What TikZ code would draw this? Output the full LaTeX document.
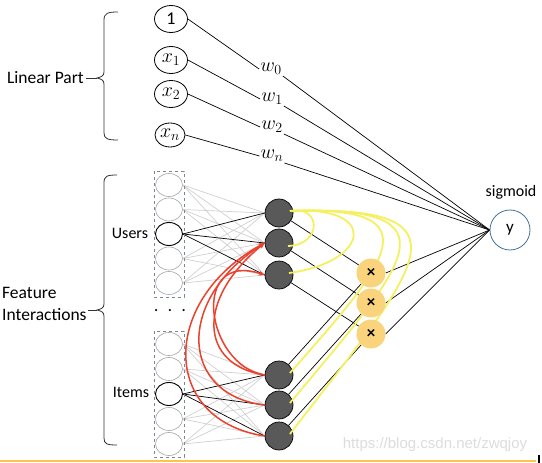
\documentclass[tikz,border=0pt]{standalone}
\usepackage{fix-cm}
\usepackage{fontspec}
\setmainfont{Carlito}
\newfontfamily\wmfont{Liberation Sans}
\usetikzlibrary{arrows.meta,calc,shapes.geometric}
\definecolor{darknode}{RGB}{89,89,89}
\definecolor{prodc}{RGB}{249,212,125}
\definecolor{yelc}{RGB}{244,240,95}
\definecolor{redc}{RGB}{235,65,45}
\definecolor{grayl}{RGB}{208,208,208}
\definecolor{graye}{RGB}{165,165,165}
\definecolor{boxc}{RGB}{120,135,150}
\definecolor{ycirc}{RGB}{65,113,156}
\definecolor{goldline}{RGB}{250,200,70}
\definecolor{wmark}{RGB}{220,220,220}
\pgfdeclarelayer{back}
\pgfdeclarelayer{over}
\pgfdeclarelayer{front}
\pgfsetlayers{back,main,over,front}
\begin{document}
\begin{tikzpicture}[x=1pt,y=-1pt,
  lin/.style={draw, ellipse, minimum width=33pt, minimum height=27pt, inner sep=0pt, line width=0.8pt, font=\fontsize{20}{22}\selectfont},
  emb/.style={draw=graye, ellipse, minimum width=27pt, minimum height=23pt, inner sep=0pt, line width=0.6pt},
  embk/.style={emb, draw=black, line width=0.9pt},
  dark/.style={circle, draw=black, fill=darknode, minimum size=28pt, inner sep=0pt, line width=0.7pt},
  prodn/.style={circle, fill=prodc, minimum size=29pt, inner sep=0pt, font=\bfseries\fontsize{17}{17}\selectfont},
  wl/.style={inner sep=1pt, font=\fontsize{20}{22}\selectfont},
  lbl/.style={font=\fontsize{17.5}{22}\selectfont},
  slbl/.style={font=\fontsize{16}{19}\selectfont},
  gl/.style={draw=grayl, line width=0.7pt},
  bl/.style={draw=black, line width=0.7pt},
  yl/.style={draw=yelc, line width=1.8pt},
  rl/.style={draw=redc, line width=1.5pt, -{Stealth[length=6pt,width=5pt]}},
  brace/.style={draw=black!80, line width=0.8pt}
]
\useasboundingbox (0,0) rectangle (542,463);

% linear part nodes
\node[lin, font=\fontsize{18}{20}\selectfont] (c1) at (171,19) {1};
\node[lin] (cx1) at (171,60) {$x_1$};
\node[lin] (cx2) at (171,94) {$x_2$};
\node[lin, minimum width=30pt, minimum height=24pt] (cxn) at (170,135) {$x_n$};
\node[wl] (w0) at (271,69) {$w_0$};
\node[wl] (w1) at (272,99) {$w_1$};
\node[wl] (w2) at (272,127) {$w_2$};
\node[wl] (wn) at (272,156) {$w_n$};

% output
\node[circle, draw=ycirc, line width=0.8pt, minimum size=40pt, inner sep=0pt, font=\fontsize{17}{19}\selectfont] (y) at (510,230) {y};
\node[slbl] (sig) at (511,192) {sigmoid};

% labels and braces
\node[lbl, anchor=east, inner sep=0pt] (lp) at (84,78) {Linear Part};
\node[lbl, anchor=west, align=left, inner sep=0pt] (fi) at (2,304) {Feature\\Interactions};
\node[slbl] (ulab) at (130,233) {Users};
\node[slbl] (ilab) at (131,392) {Items};
\node[font=\bfseries\fontsize{14}{14}\selectfont] (dots) at (170,311) {.\hspace{10pt}.\hspace{10pt}.};

\draw[brace] (118,12) .. controls (108,12) and (104,13) .. (104,20) -- (104,72)
  .. controls (104,76) and (101,77) .. (97,78) .. controls (101,79) and (104,80) .. (104,84)
  -- (104,133) .. controls (104,139) and (108,140) .. (118,140);
\draw[brace] (lp.east) ++(2,0) -- (97,78);
\draw[brace] (117,175) .. controls (107,175) and (104,176) .. (104,183) -- (104,304)
  .. controls (104,308) and (101,309) .. (97,310) .. controls (101,311) and (104,312) .. (104,316)
  -- (104,438) .. controls (104,444) and (107,445) .. (117,445);
\draw[brace] (88,310) -- (97,310);

% embedding boxes
\draw[boxc, dashed, line width=0.7pt] (154,171) rectangle (184,297);
\draw[boxc, dashed, line width=0.7pt] (154,331) rectangle (184,457);
\node[emb] (ue1) at (169,185) {};
\node[emb] (ue2) at (169,209.5) {};
\node[embk] (ue3) at (169,234) {};
\node[emb] (ue4) at (169,258.5) {};
\node[emb] (ue5) at (169,283) {};
\node[emb] (ie1) at (169,344) {};
\node[emb] (ie2) at (169,369) {};
\node[embk] (ie3) at (169,394) {};
\node[emb] (ie4) at (169,419) {};
\node[emb] (ie5) at (169,444) {};

% dark nodes
\node[dark] (u1) at (279,213) {};
\node[dark] (u2) at (279,243) {};
\node[dark] (u3) at (279,275) {};
\node[dark] (i1) at (279,375) {};
\node[dark] (i2) at (279,405) {};
\node[dark] (i3) at (279,436) {};

% product nodes
\begin{pgfonlayer}{front}
\node[prodn] (p1) at (371,273) {×};
\node[prodn] (p2) at (371,303) {×};
\node[prodn] (p3) at (371,334) {×};
\end{pgfonlayer}

\begin{pgfonlayer}{back}
\foreach \e in {ue1,ue2,ue4,ue5} \foreach \d in {u1,u2,u3} \draw[gl] (\e.east) -- (\d.west);
\foreach \e in {ie1,ie2,ie4,ie5} \foreach \d in {i1,i2,i3} \draw[gl] (\e.east) -- (\d.west);
\foreach \d in {u1,u2,u3} \draw[bl] (ue3.east) -- (\d.west);
\foreach \d in {i1,i2,i3} \draw[bl] (ie3.east) -- (\d.west);
\draw[bl] (c1.east) -- (w0.west);
\draw[bl] (cx1.east) -- (w1.west);
\draw[bl] (cx2.east) -- (w2.west);
\draw[bl] (cxn.east) -- (wn.west);
\draw[bl] (w0.south east) -- (y.west);
\draw[bl] (w1.south east) -- (y.west);
\draw[bl] (w2.south east) -- (y.west);
\draw[bl] (wn.south east) -- (y.west);
\draw[bl] (u1) -- (p1);
\draw[bl] (u2) -- (p2);
\draw[bl] (u3) -- (p3);
\draw[bl] (i1) -- (p1);
\draw[bl] (i2) -- (p2);
\draw[bl] (i3) -- (p3);
\draw[bl] (p1.east) -- (y.west);
\draw[bl] (p2.east) -- (y.west);
\draw[bl] (p3.east) -- (y.west);
\end{pgfonlayer}

\begin{pgfonlayer}{over}
\coordinate (u1y) at ($(u1)+(11,-2)$);
\draw[yl] (u1y) .. controls (322,205) and (322,245) .. ($(u2)+(9,3)$);
\draw[yl] (u1y) .. controls (380,205) and (370,262) .. ($(u3)+(10,-2)$);
\draw[yl] (u1y) .. controls (440,205) and (385,265) .. ($(i1)+(11,-2)$);
\draw[yl] (u1y) .. controls (465,205) and (405,265) .. ($(i2)+(11,-2)$);
\draw[yl] (u1y) .. controls (480,205) and (420,265) .. ($(i3)+(11,-2)$);
\draw[rl] (i3.west) .. controls (160,420) and (160,300) .. (u2.west);
\draw[rl] (i2.west) .. controls (180,395) and (175,300) .. (u2.west);
\draw[rl] (i1.west) .. controls (200,365) and (195,300) .. (u2.west);
\draw[rl] (i1.west) .. controls (205,365) and (190,250) .. (u3.west);
\end{pgfonlayer}

% watermark and bottom line
\node[font=\wmfont\fontsize{15}{15}\selectfont, text=wmark] (wm) at (435,445) {https://blog.csdn.net/zwqjoy};
\coordinate (bl0) at (0,461);
\coordinate (bl1) at (536,461);
\draw[goldline, line width=2pt] (bl0) -- (bl1);
\coordinate (mk0) at (539,455);
\coordinate (mk1) at (539,463);
\draw[black, line width=2pt] (mk0) -- (mk1);
\end{tikzpicture}
\end{document}
